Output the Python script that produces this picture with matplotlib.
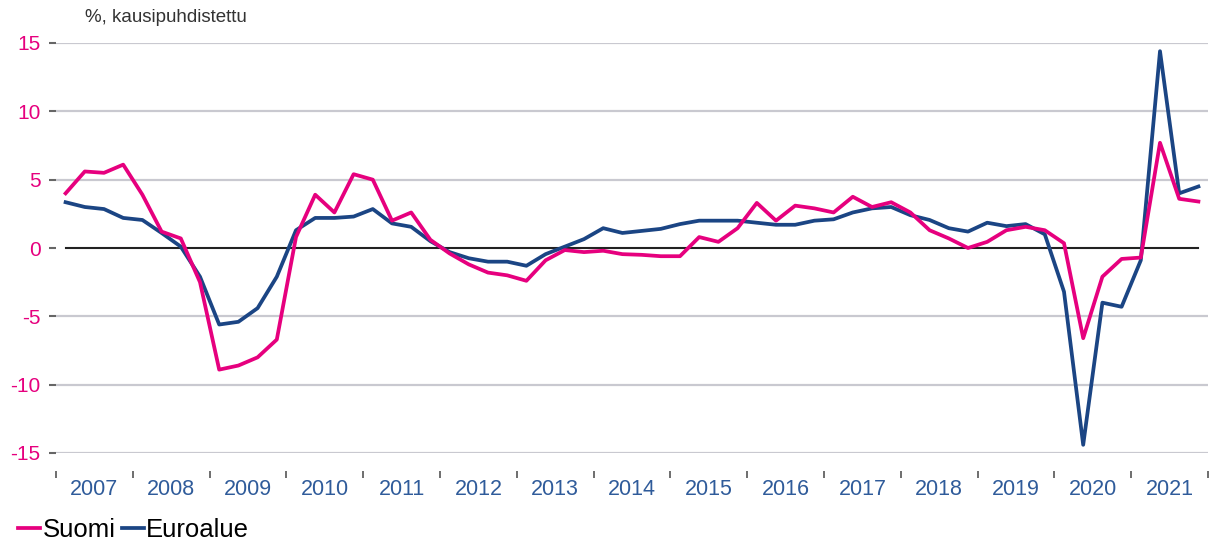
import numpy as np
import matplotlib.pyplot as plt

# quarterly, 2007Q1 .. 2021Q4
suomi = [4.0, 5.6, 5.5, 6.1, 3.9, 1.2, 0.7, -2.5,
         -8.9, -8.6, -8.0, -6.7, 0.8, 3.9, 2.6, 5.4,
         5.0, 2.0, 2.6, 0.6, -0.4, -1.2, -1.8, -2.0,
         -2.4, -0.9, -0.15, -0.3, -0.2, -0.45, -0.5, -0.6,
         -0.6, 0.8, 0.45, 1.45, 3.3, 2.0, 3.1, 2.9,
         2.6, 3.75, 3.0, 3.35, 2.6, 1.3, 0.7, 0.0,
         0.45, 1.3, 1.55, 1.3, 0.35, -6.6, -2.1, -0.8,
         -0.7, 7.7, 3.6, 3.4]
euroalue = [3.35, 3.0, 2.85, 2.2, 2.05, 1.1, 0.1, -2.1,
            -5.6, -5.4, -4.4, -2.1, 1.3, 2.2, 2.2, 2.3,
            2.85, 1.8, 1.55, 0.5, -0.3, -0.75, -1.0, -1.0,
            -1.3, -0.45, 0.1, 0.65, 1.45, 1.1, 1.25, 1.4,
            1.75, 2.0, 2.0, 2.0, 1.85, 1.7, 1.7, 2.0,
            2.1, 2.6, 2.9, 3.0, 2.4, 2.05, 1.45, 1.2,
            1.85, 1.6, 1.75, 1.0, -3.2, -14.4, -4.0, -4.3,
            -0.9, 14.4, 4.0, 4.5]
years = list(range(2007, 2022))
yticks = [-15, -10, -5, 0, 5, 10, 15]

pink = '#e6007e'
navy = '#1b4584'
x = 2007 + (np.arange(len(suomi)) + 0.5) / 4

plt.rcParams['font.family'] = ['Liberation Sans', 'DejaVu Sans']
fig = plt.figure(figsize=(12.17, 5.43), dpi=100)
ax = fig.add_axes([56/1217, 1 - 453/543, (1208-56)/1217, (453-43)/543])

for v in yticks:
    if v != 0:
        ax.axhline(v, color='#c9c9d0', lw=1.6, zorder=0)
ax.plot([x[0], x[-1]], [0, 0], color='#222222', lw=1.5, zorder=1)

ax.plot(x, suomi, color=pink, lw=2.7, label='Suomi', zorder=3)
ax.plot(x, euroalue, color=navy, lw=2.7, label='Euroalue', zorder=2)

ax.set_xlim(2007, 2022)
ax.set_ylim(-15, 15)
for s in ax.spines.values():
    s.set_visible(False)
ax.spines['bottom'].set_position(('outward', 13))

ax.set_yticks(yticks)
ax.set_yticklabels([str(v) for v in yticks], color=pink, fontsize=15)
ax.tick_params(axis='y', length=5, width=1.5, color='#666666', pad=6)

ax.set_xticks(years + [2022])
ax.set_xticklabels([])
ax.set_xticks([y + 0.5 for y in years], minor=True)
ax.set_xticklabels([str(y) for y in years], minor=True, color='#2f5b9a', fontsize=15.5)
ax.tick_params(axis='x', which='major', length=5, width=1.2, color='#555555')
ax.tick_params(axis='x', which='minor', length=0, pad=6)

fig.text(85/1217, 1 - 18/543, '%, kausipuhdistettu', fontsize=13.5, color='#333333', va='center')

fig.legend(loc='center left', bbox_to_anchor=(18/1217, 1 - 530/543), ncol=2, frameon=False,
           fontsize=18.5, handlelength=0.85, handletextpad=0.1, columnspacing=0.25,
           borderpad=0, borderaxespad=0)

fig.savefig('out.png', dpi=100)
